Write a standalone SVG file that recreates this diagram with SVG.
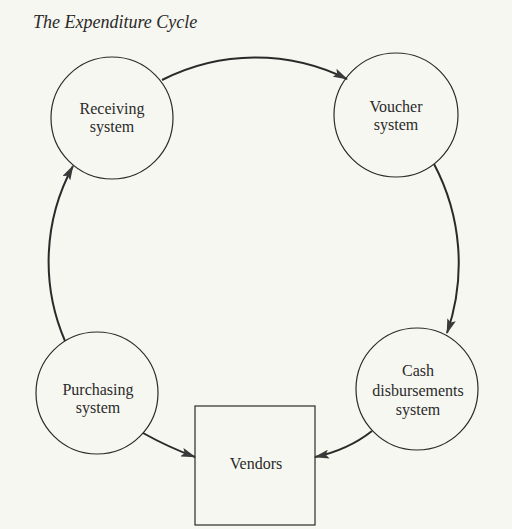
<svg xmlns="http://www.w3.org/2000/svg" width="512" height="529" viewBox="0 0 512 529">
<style>
.node{fill:none;stroke:#2a2a2a;stroke-width:1.2}
.lbl{font-family:"Liberation Serif","Times New Roman",serif;font-size:16px;fill:#2a2a2a;text-anchor:middle}
.title{font-family:"Liberation Serif","Times New Roman",serif;font-size:18px;font-style:italic;fill:#2a2a2a}
.conn{fill:none;stroke:#2a2a2a;stroke-width:2}
</style>
<defs>
<marker id="arr" viewBox="0 0 15 9" refX="14" refY="4.5" markerWidth="15" markerHeight="9" markerUnits="userSpaceOnUse" orient="auto">
<path d="M0,0 L15,4.5 L0,9 L3,4.5 Z" fill="#3a3a3a"/>
</marker>
</defs>
<rect width="512" height="529" fill="#f7f7f1"/>
<text class="title" x="33" y="28">The Expenditure Cycle</text>
<g id="connectors">
<path class="conn" d="M162,80 A205,205 0 0 1 347,79" marker-end="url(#arr)"/>
<path class="conn" d="M434,164 A212,212 0 0 1 447,333" marker-end="url(#arr)"/>
<path class="conn" d="M372,431 Q348,450 315,457" marker-end="url(#arr)"/>
<path class="conn" d="M143,433 Q168,447 195,457" marker-end="url(#arr)"/>
<path class="conn" d="M65,341 A200,200 0 0 1 73,166" marker-end="url(#arr)"/>
</g>
<g id="receiving">
<circle class="node" cx="112" cy="118" r="61"/>
<text class="lbl" x="112" y="114">Receiving</text>
<text class="lbl" x="112" y="132">system</text>
</g>
<g id="voucher">
<circle class="node" cx="396" cy="115" r="62"/>
<text class="lbl" x="396" y="112">Voucher</text>
<text class="lbl" x="396" y="130">system</text>
</g>
<g id="purchasing">
<circle class="node" cx="97" cy="393" r="61"/>
<text class="lbl" x="98" y="395">Purchasing</text>
<text class="lbl" x="98" y="413">system</text>
</g>
<g id="cash">
<circle class="node" cx="417" cy="389" r="61"/>
<text class="lbl" x="418" y="376">Cash</text>
<text class="lbl" x="418" y="396">disbursements</text>
<text class="lbl" x="418" y="415">system</text>
</g>
<g id="vendors">
<rect class="node" x="195" y="406" width="120" height="119"/>
<text class="lbl" x="256" y="469">Vendors</text>
</g>
</svg>
